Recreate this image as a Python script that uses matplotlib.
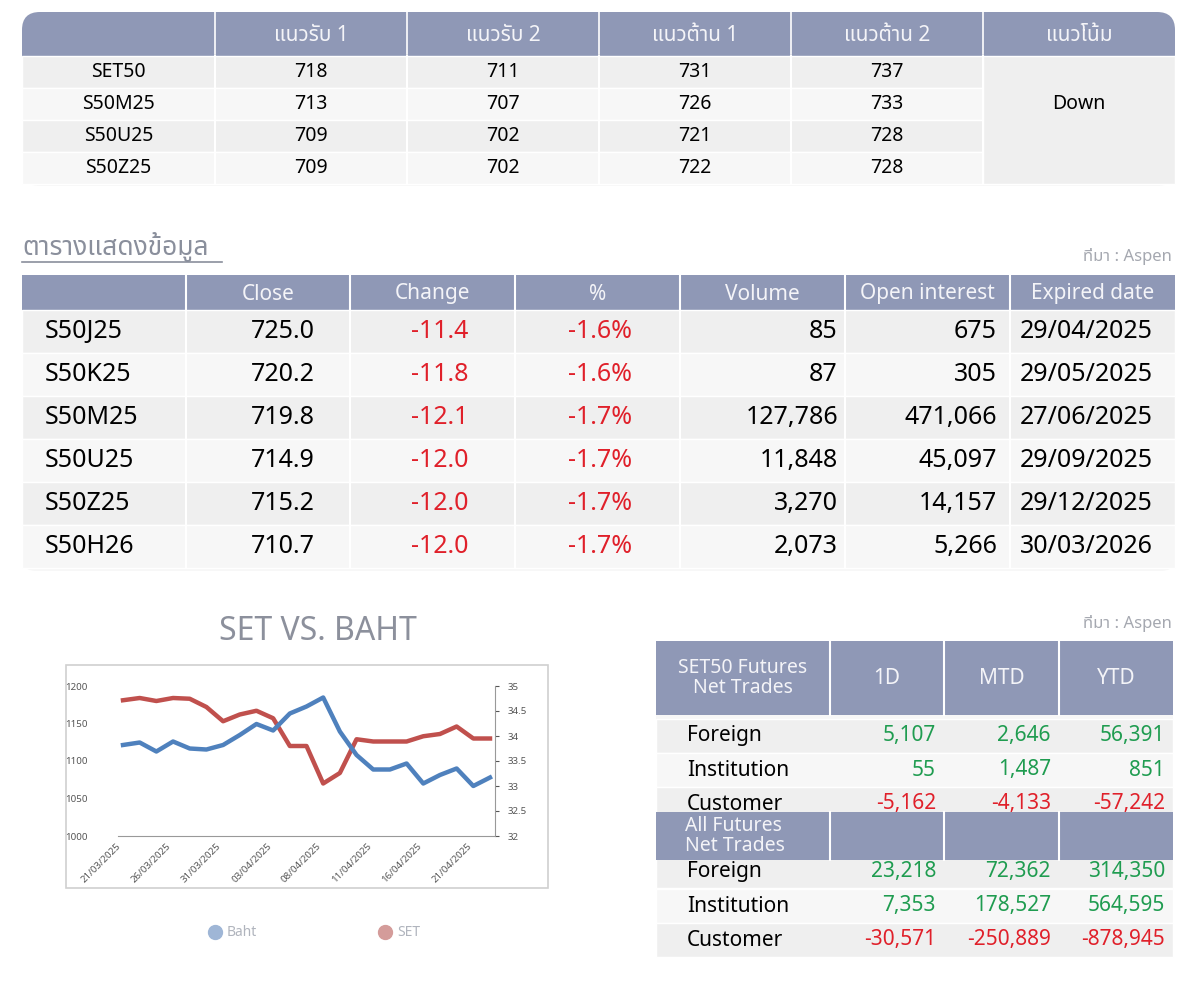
import matplotlib
matplotlib.use("Agg")
import matplotlib.pyplot as plt
from matplotlib.patches import FancyBboxPatch, Rectangle
import warnings
warnings.filterwarnings("ignore")

plt.rcParams["font.family"] = ["Noto Sans Thai", "Loma", "Garuda", "Tlwg Typo", "Noto Sans", "DejaVu Sans"]

# ---------- data ----------
t1_cols = ["แนวรับ 1", "แนวรับ 2", "แนวต้าน 1", "แนวต้าน 2", "แนวโน้ม"]
t1_names = ["SET50", "S50M25", "S50U25", "S50Z25"]
t1_s1 = [718, 713, 709, 709]
t1_s2 = [711, 707, 702, 702]
t1_r1 = [731, 726, 721, 722]
t1_r2 = [737, 733, 728, 728]
t1_trend = "Down"

t2_cols = ["Close", "Change", "%", "Volume", "Open interest", "Expired date"]
t2_names = ["S50J25", "S50K25", "S50M25", "S50U25", "S50Z25", "S50H26"]
t2_close = [725.0, 720.2, 719.8, 714.9, 715.2, 710.7]
t2_change = [-11.4, -11.8, -12.1, -12.0, -12.0, -12.0]
t2_pct = [-1.6, -1.6, -1.7, -1.7, -1.7, -1.7]
t2_volume = [85, 87, 127786, 11848, 3270, 2073]
t2_oi = [675, 305, 471066, 45097, 14157, 5266]
t2_exp = ["29/04/2025", "29/05/2025", "27/06/2025", "29/09/2025", "29/12/2025", "30/03/2026"]

dates = ["21/03/2025", "24/03/2025", "25/03/2025", "26/03/2025", "27/03/2025", "28/03/2025",
         "31/03/2025", "01/04/2025", "02/04/2025", "03/04/2025", "04/04/2025", "07/04/2025",
         "08/04/2025", "09/04/2025", "10/04/2025", "11/04/2025", "14/04/2025", "15/04/2025",
         "16/04/2025", "17/04/2025", "18/04/2025", "21/04/2025", "22/04/2025"]
set_idx = [1181, 1184, 1180, 1184, 1183, 1172, 1153, 1162, 1167, 1157, 1120, 1120,
           1070, 1084, 1129, 1126, 1126, 1126, 1133, 1136, 1146, 1130, 1130]
baht = [33.82, 33.87, 33.69, 33.89, 33.75, 33.73, 33.82, 34.02, 34.24, 34.11, 34.45, 34.59,
        34.77, 34.09, 33.62, 33.33, 33.33, 33.45, 33.05, 33.22, 33.35, 33.00, 33.17]

t3_cols = ["1D", "MTD", "YTD"]
t3_rows = ["Foreign", "Institution", "Customer"]
s50_1d = [5107, 55, -5162]
s50_mtd = [2646, 1487, -4133]
s50_ytd = [56391, 851, -57242]
all_1d = [23218, 7353, -30571]
all_mtd = [72362, 178527, -250889]
all_ytd = [314350, 564595, -878945]

# ---------- style ----------
HDR = "#8f98b6"
HDR_TXT = "#f4f4f8"
ROW_A = "#efefef"
ROW_B = "#f7f7f7"
RED = "#e0202a"
GREEN = "#1f9c50"
GRAY = "#8a8f9c"

fig = plt.figure(figsize=(12, 9.82), dpi=100)
ax = fig.add_axes([0, 0, 1, 1])
ax.set_xlim(0, 1200)
ax.set_ylim(982, 0)
ax.axis("off")


def fmt(v):
    return f"{v:,}"


# ---------- table 1 ----------
c1 = [22, 215, 407, 599, 791, 983, 1175]
ax.add_patch(FancyBboxPatch((22, 12), 1153, 174, boxstyle="round,pad=0,rounding_size=18",
                            fc=ROW_B, ec="none", zorder=0))
ax.add_patch(FancyBboxPatch((22, 12), 1153, 60, boxstyle="round,pad=0,rounding_size=18",
                            fc=HDR, ec="none", zorder=1))
ax.add_patch(Rectangle((22, 40), 1153, 15, fc="white", ec="none", zorder=1.5))
ax.add_patch(Rectangle((22, 30), 1153, 25, fc=HDR, ec="none", zorder=1.6))
for x in c1[1:-1]:
    ax.plot([x, x], [12, 54], color="white", lw=1.2, zorder=2)
for j, name in enumerate(t1_cols):
    ax.text((c1[j + 1] + c1[j + 2]) / 2, 35, name, ha="center", va="center",
            color=HDR_TXT, fontsize=15, zorder=3)
r1 = [56, 88, 120, 152, 184]
for i, name in enumerate(t1_names):
    y0, y1 = r1[i], r1[i + 1]
    ax.add_patch(Rectangle((22, y0), 961, y1 - y0, fc=ROW_A if i % 2 == 0 else ROW_B,
                           ec="white", lw=1, zorder=1))
    yc = (y0 + y1) / 2
    ax.text((c1[0] + c1[1]) / 2, yc, name, ha="center", va="center", fontsize=14)
    for j, v in enumerate([t1_s1[i], t1_s2[i], t1_r1[i], t1_r2[i]]):
        ax.text((c1[j + 1] + c1[j + 2]) / 2, yc, str(v), ha="center", va="center", fontsize=14)
ax.add_patch(Rectangle((983, 56), 192, 128, fc=ROW_A, ec="white", lw=1, zorder=1))
ax.text(1079, 104, t1_trend, ha="center", va="center", fontsize=14)
for x in c1[1:-1]:
    ax.plot([x, x], [56, 184], color="white", lw=1.5, zorder=2)

# ---------- title 2 ----------
ax.text(22, 247, "ตารางแสดงข้อมูล", ha="left", va="center", fontsize=19, color=GRAY)
ax.plot([22, 222], [262, 262], color=GRAY, lw=1.2)
ax.text(1172, 256, "ที่มา : Aspen", ha="right", va="center", fontsize=12, color="#a5a8b0")

# ---------- table 2 ----------
c2 = [22, 186, 350, 515, 680, 845, 1010, 1175]
ax.add_patch(FancyBboxPatch((22, 275), 1153, 296, boxstyle="round,pad=0,rounding_size=14",
                            fc=ROW_B, ec="none", zorder=0))
ax.add_patch(Rectangle((22, 275), 1153, 35, fc=HDR, ec="none", zorder=1))
for j, name in enumerate(t2_cols):
    ax.text((c2[j + 1] + c2[j + 2]) / 2, 294, name, ha="center", va="center",
            color=HDR_TXT, fontsize=15, zorder=3)
for x in c2[1:-1]:
    ax.plot([x, x], [275, 568], color="white", lw=1.5, zorder=2)
rh = 43
for i, name in enumerate(t2_names):
    y0 = 310 + i * rh
    ax.add_patch(Rectangle((22, y0), 1153, rh, fc=ROW_A if i % 2 == 0 else ROW_B,
                           ec="white", lw=1, zorder=1))
    yc = y0 + rh / 2
    kw = dict(va="center", fontsize=18, zorder=3)
    ax.text(45, yc, name, ha="left", **kw)
    ax.text(315, yc, f"{t2_close[i]:.1f}", ha="right", **kw)
    ax.text(440, yc, f"{t2_change[i]:.1f}", ha="center", color=RED, **kw)
    ax.text(600, yc, f"{t2_pct[i]:.1f}%", ha="center", color=RED, **kw)
    ax.text(838, yc, fmt(t2_volume[i]), ha="right", **kw)
    ax.text(997, yc, fmt(t2_oi[i]), ha="right", **kw)
    ax.text(1153, yc, t2_exp[i], ha="right", **kw)

# ---------- chart ----------
ax.text(318, 632, "SET VS. BAHT", ha="center", va="center", fontsize=23, color="#8c909c")
ax.add_patch(Rectangle((66, 665), 482, 223, fc="white", ec="#d0d0d0", lw=1.2))
W, H = 1200, 982
cax = fig.add_axes([118 / W, 1 - 836 / H, (495 - 118) / W, (836 - 686) / H])
x = list(range(len(dates)))
cax.plot(x, set_idx, color="#c0504d", lw=3.2, solid_joinstyle="round")
cax.set_ylim(1000, 1200)
cax.set_yticks([1000, 1050, 1100, 1150, 1200])
cax.set_xlim(-0.3, len(dates) - 1 + 0.3)
cax.set_xticks(x[::3])
cax.set_xticklabels(dates[::3], rotation=45, ha="right", fontsize=5.5, color="#777777")
cax2 = cax.twinx()
cax2.plot(x, baht, color="#4f81bd", lw=3.2, solid_joinstyle="round")
cax2.set_ylim(32, 35)
cax2.set_yticks([32, 32.5, 33, 33.5, 34, 34.5, 35])
cax2.set_yticklabels(["32", "32.5", "33", "33.5", "34", "34.5", "35"])
for a in (cax, cax2):
    a.set_facecolor("none")
    for s in ("top", "left"):
        a.spines[s].set_visible(False)
    a.spines["right"].set_visible(a is cax2)
    a.spines["right"].set_color("#999999")
    a.spines["bottom"].set_color("#999999")
    a.tick_params(labelsize=7, colors="#555555", length=3, pad=6)
cax.tick_params(axis="y", length=0, pad=22)
cax.tick_params(axis="x", length=0, pad=4)
cax2.spines["bottom"].set_visible(False)
ax.plot([215], [932], "o", ms=10, color="#9fb6d6")
ax.text(227, 932, "Baht", va="center", fontsize=10, color="#b0b4bd")
ax.plot([385], [932], "o", ms=10, color="#d49c9a")
ax.text(397, 932, "SET", va="center", fontsize=10, color="#b0b4bd")

# ---------- table 3 ----------
ax.text(1172, 624, "ที่มา : Aspen", ha="right", va="center", fontsize=12, color="#a5a8b0")
c3 = [656, 830, 944, 1059, 1173]
ax.add_patch(FancyBboxPatch((656, 641), 517, 316, boxstyle="round,pad=0,rounding_size=6",
                            fc=ROW_B, ec="none", zorder=0))


def block(ytop, hh, title, v1, v2, v3, rows_y, show_cols):
    ax.add_patch(Rectangle((656, ytop), 517, hh, fc=HDR, ec="none", zorder=1))
    for xx in c3[1:-1]:
        ax.plot([xx, xx], [ytop, ytop + hh], color="white", lw=1.5, zorder=2)
    if show_cols:
        ax.text(743, ytop + hh / 2, title, ha="center", va="center", color=HDR_TXT,
                fontsize=14, linespacing=1.05, zorder=3)
        for j, cname in enumerate(t3_cols):
            ax.text((c3[j + 1] + c3[j + 2]) / 2, ytop + hh / 2, cname, ha="center",
                    va="center", color=HDR_TXT, fontsize=15, zorder=3)
    else:
        ax.text(685, ytop + hh / 2, title, ha="left", va="center", color=HDR_TXT,
                fontsize=14, linespacing=1.0, zorder=3)
    for i, rname in enumerate(t3_rows):
        yc = rows_y[i]
        ax.add_patch(Rectangle((656, yc - 17), 517, 34, fc=ROW_A if i % 2 == 0 else ROW_B,
                               ec="white", lw=1, zorder=0.5))
        ax.text(687, yc, rname, ha="left", va="center", fontsize=15, zorder=3)
        for j, vv in enumerate([v1[i], v2[i], v3[i]]):
            ax.text(c3[j + 2] - 8, yc, fmt(vv), ha="right", va="center", fontsize=15,
                    color=GREEN if vv >= 0 else RED, zorder=3)


block(641, 74, "SET50 Futures\nNet Trades", s50_1d, s50_mtd, s50_ytd, [736, 770, 804], True)
block(812, 48, "All Futures\nNet Trades", all_1d, all_mtd, all_ytd, [871, 906, 940], False)

fig.savefig("out.png", dpi=100, facecolor="white")
